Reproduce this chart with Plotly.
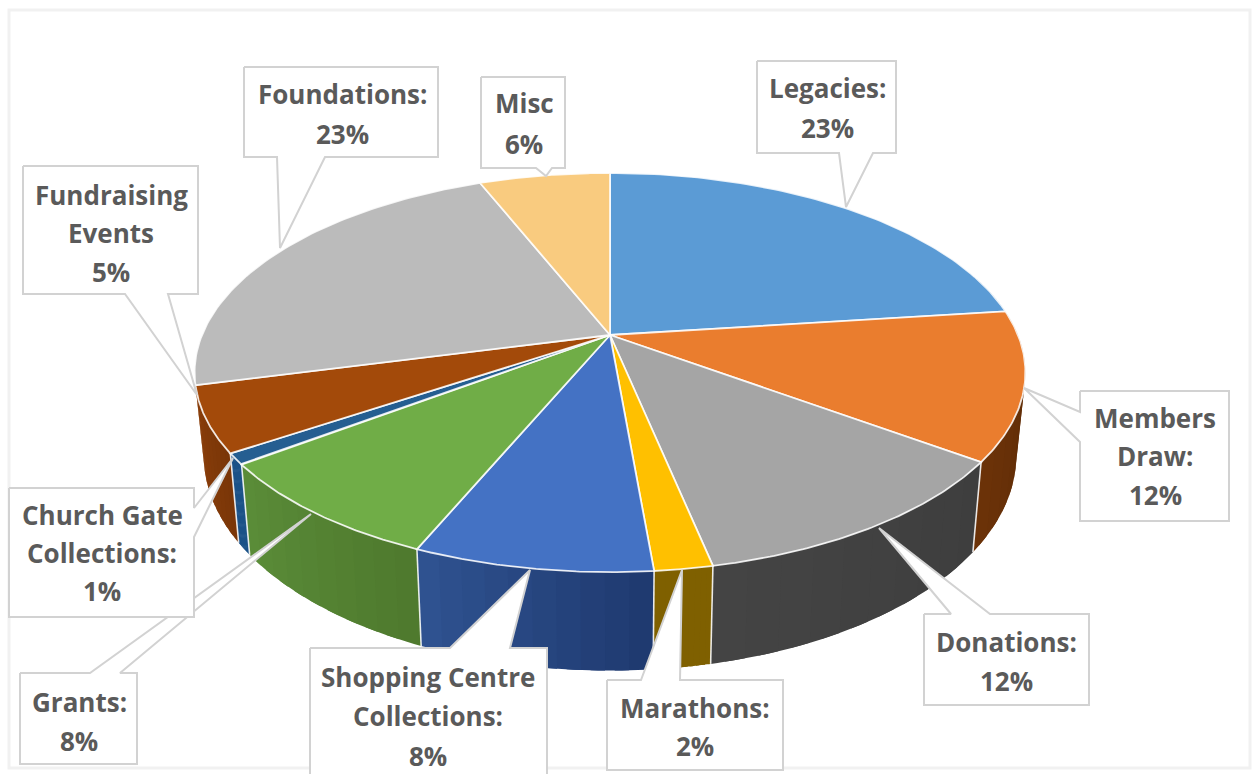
import numpy as np
import plotly.graph_objects as go

# ---- data -------------------------------------------------------------
categories = ["Legacies", "Members Draw", "Donations", "Marathons",
              "Shopping Centre Collections", "Grants", "Church Gate Collections",
              "Fundraising Events", "Foundations", "Misc"]
values = [23.0, 12.0, 11.7, 1.9, 7.8, 8.4, 0.9, 5.3, 22.9, 6.1]
label_lines = [["Legacies:", "23%"], ["Members", "Draw:", "12%"], ["Donations:", "12%"],
               ["Marathons:", "2%"], ["Shopping Centre", "Collections:", "8%"],
               ["Grants:", "8%"], ["Church Gate", "Collections:", "1%"],
               ["Fundraising", "Events", "5%"], ["Foundations:", "23%"], ["Misc", "6%"]]

# ---- styles -----------------------------------------------------------
top_colors = ["#5B9BD5", "#EA7D2E", "#A5A5A5", "#FFC000", "#4472C4",
              "#70AD47", "#255E91", "#A34A0A", "#BBBBBB", "#F9CB7F"]
# wall colour at the right-hand and left-hand end of each slice's wall
side_right = ["#3f6f9c", "#5A2A06", "#3E3E3E", "#7F6000", "#1F3A70",
              "#4F7A2E", "#1B5288", "#7A3608", "#777777", "#b08f58"]
side_left = ["#3f6f9c", "#6B3208", "#444444", "#7F6000", "#2F5290",
             "#5A8C38", "#1B5288", "#8A3E0A", "#777777", "#b08f58"]
FRAME = "#F1F1F1"; BOX_LINE = "#D2D2D2"; TEXT = "#5A5A5A"; SEAM = "rgba(255,255,255,0.85)"

# projection of the tilted disc
CX, CY, A, B, K, DEPTH, SHRINK = 610, 335, 408, 192.5, 0.188, 80, 0.978
WALL_FROM, WALL_TO = 0.40 * np.pi, 1.42 * np.pi
SEAM_FROM, SEAM_TO = 0.50 * np.pi, 1.40 * np.pi


def rim(theta, lower=False):
    u, v = np.sin(theta), np.cos(theta)
    w = 1 + K * v
    x, y = A * u / w, -B * v / w
    if lower:
        return CX + SHRINK * x, CY + y + DEPTH / w
    return CX + x, CY + y


def mix(c1, c2, t):
    a = [int(c1[i:i + 2], 16) for i in (1, 3, 5)]
    b = [int(c2[i:i + 2], 16) for i in (1, 3, 5)]
    return "#%02x%02x%02x" % tuple(round(p + (q - p) * t) for p, q in zip(a, b))


edges = 2 * np.pi * np.concatenate([[0], np.cumsum(values)]) / np.sum(values)
fig = go.Figure()

# side walls: only the front of the rim can be seen
for i in range(len(values)):
    lo, hi = max(edges[i], WALL_FROM), min(edges[i + 1], WALL_TO)
    if hi <= lo:
        continue
    bands = 10
    steps = np.linspace(lo, hi, bands + 1)
    overlap = (hi - lo) / bands * 0.6
    for b in range(bands):
        # each band runs on under the next one so that no gap shows between them
        t = np.linspace(steps[b], min(steps[b + 1] + overlap, hi), 6)
        xt, yt = rim(t)
        xb, yb = rim(t, True)
        col = mix(side_right[i], side_left[i], b / (bands - 1))
        fig.add_trace(go.Scatter(x=np.r_[xt, xb[::-1], xt[0]], y=np.r_[yt, yb[::-1], yt[0]],
                                 mode="none", fill="toself", fillcolor=col, hoverinfo="skip",
                                 showlegend=False))
for ang in edges:
    if SEAM_FROM < ang < SEAM_TO:
        xs, ys = rim(np.array([ang])), rim(np.array([ang]), True)
        fig.add_trace(go.Scatter(x=[xs[0][0], ys[0][0]], y=[xs[1][0], ys[1][0]], mode="lines",
                                 line=dict(color=SEAM, width=1.6), hoverinfo="skip",
                                 showlegend=False))

# top faces
for i, name in enumerate(categories):
    t = np.linspace(edges[i], edges[i + 1], 80)
    x, y = rim(t)
    fig.add_trace(go.Scatter(x=np.r_[CX, x, CX], y=np.r_[CY, y, CY], mode="lines", fill="toself",
                             fillcolor=top_colors[i], line=dict(color=SEAM, width=1.8),
                             name=name, text=f"{name}: {values[i]:.0f}%", hoverinfo="text",
                             showlegend=False))

# ---- callouts: left, right, top, bottom of box + pointer (base, tip, base) ----
boxes = [
    (757, 896, 61, 153, [(873, 153), (846, 207), (839, 153)]),
    (1080, 1229, 391, 521, [(1080, 442), (1024, 388), (1080, 412)]),
    (924, 1089, 614, 705, [(951, 614), (879, 528), (990, 614)]),
    (607, 783, 680, 770, [(641, 680), (682, 570), (680, 680)]),
    (310, 547, 648, 790, [(450, 648), (530, 570), (510, 648)]),
    (20, 137, 673, 764, [(90, 673), (311, 514), (120, 673)]),
    (9, 194, 488, 617, [(194, 508), (233, 458), (194, 537)]),
    (23, 198, 166, 294, [(168, 294), (197, 395), (125, 294)]),
    (244, 438, 67, 157, [(325, 157), (280, 248), (277, 157)]),
    (481, 565, 77, 168, [(552, 168), (546, 176), (536, 168)]),
]
text_x = [827, 1155, 1006, 695, 428, 79, 102, 111, 342, 524]
text_y = [[88, 128], [418, 456, 495], [642, 681], [708, 746], [677, 716, 756],
          [702, 741], [515, 553, 591], [195, 233, 272], [94, 134], [103, 144]]

for (l, r, t, b, ptr) in boxes:
    if ptr[0][1] == t:      # pointer leaves the top edge
        pts = [(l, t)] + ptr + [(r, t), (r, b), (l, b), (l, t)]
    elif ptr[0][1] == b:    # bottom edge
        pts = [(l, t), (r, t), (r, b)] + ptr + [(l, b), (l, t)]
    elif ptr[0][0] == l:    # left edge
        pts = [(l, t), (r, t), (r, b), (l, b)] + ptr + [(l, t)]
    else:                   # right edge
        pts = [(l, t), (r, t)] + ptr + [(r, b), (l, b), (l, t)]
    fig.add_trace(go.Scatter(x=[p[0] for p in pts], y=[p[1] for p in pts], mode="lines",
                             fill="toself", fillcolor="white",
                             line=dict(color=BOX_LINE, width=2),
                             hoverinfo="skip", showlegend=False))

annotations = []
for lines, tx, tys in zip(label_lines, text_x, text_y):
    for line, ty in zip(lines, tys):
        annotations.append(dict(x=tx, y=ty, text=f"<b>{line}</b>", showarrow=False,
                                xanchor="center", yanchor="middle",
                                font=dict(family="Open Sans", size=26, color=TEXT)))

fig.update_layout(
    width=1260, height=774, margin=dict(l=0, r=0, t=0, b=0),
    paper_bgcolor="white", plot_bgcolor="white", showlegend=False,
    xaxis=dict(range=[0, 1260], visible=False, fixedrange=True),
    yaxis=dict(range=[774, 0], visible=False, fixedrange=True),
    annotations=annotations,
    shapes=[dict(type="rect", x0=9, x1=1250, y0=10, y1=768, line=dict(color=FRAME, width=3),
                 layer="below")],
)
fig.write_html("out.html", config=dict(displayModeBar=False),
               post_script="document.body.style.margin='0';document.body.style.overflow='hidden';")
